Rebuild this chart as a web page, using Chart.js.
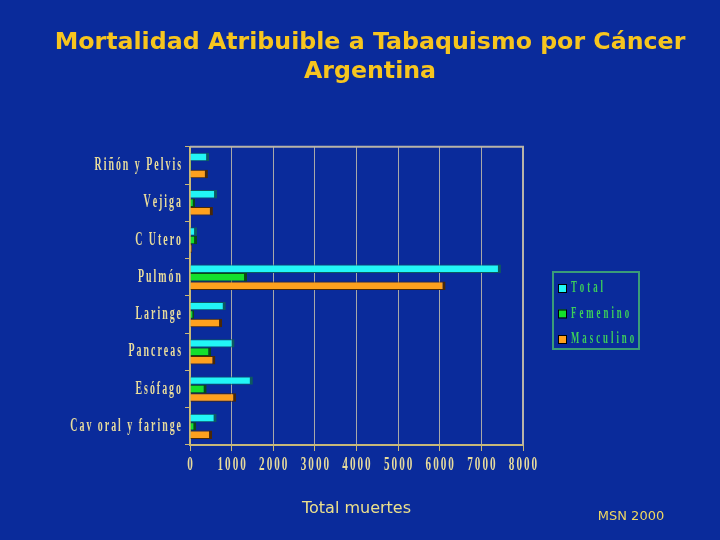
<!DOCTYPE html>
<html>
<head>
<meta charset="utf-8">
<script src="https://cdn.jsdelivr.net/npm/chart.js@4"></script>
<style>
  html, body { margin: 0; padding: 0; background: #0a2b9b; }
  #wrap { width: 720px; height: 540px; }
</style>
</head>
<body>
<div id="wrap"><canvas id="chart" width="720" height="540"></canvas></div>
<script>
// datos (muertes)
const categorias = ["Riñón y Pelvis", "Vejiga", "C Utero", "Pulmón", "Laringe", "Pancreas", "Esófago", "Cav oral y faringe"];
const total = [460, 650, 170, 7470, 860, 1070, 1510, 640];
const femenino = [30, 120, 170, 1370, 100, 510, 400, 150];
const masculino = [430, 550, 50, 6140, 770, 610, 1110, 530];
const ticksX = ["0", "1000", "2000", "3000", "4000", "5000", "6000", "7000", "8000"];

const amarillo = "#e8dc9c";

// texto "estrecho" con letras separadas, como en la diapositiva
function drawSpaced(ctx, text, x, y, align, sx, gap) {
    const chars = Array.from(text);
    const widths = chars.map(c => ctx.measureText(c).width * sx);
    const w = widths.reduce((a, b) => a + b, 0) + gap * (chars.length - 1);
    let cx = align === "right" ? x - w : align === "center" ? x - w / 2 : x;
    ctx.textAlign = "left";
    ctx.textBaseline = "middle";
    chars.forEach((c, i) => {
        ctx.save();
        ctx.translate(cx, y);
        ctx.scale(sx, 1);
        ctx.fillText(c, 0, 0);
        ctx.restore();
        cx += widths[i] + gap;
    });
}

const fondo = {
    id: "fondo",
    beforeDraw(chart) {
        const ctx = chart.ctx;
        ctx.save();
        ctx.fillStyle = "#0a2b9b";
        ctx.fillRect(0, 0, chart.width, chart.height);
        ctx.restore();
    },
    beforeDatasetsDraw(chart) {
        const a = chart.chartArea;
        const ctx = chart.ctx;
        ctx.save();
        ctx.strokeStyle = "#b8b4a8";
        ctx.lineWidth = 2;
        ctx.beginPath();
        ctx.moveTo(a.left, a.top);
        ctx.lineTo(a.right, a.top);
        ctx.lineTo(a.right, a.bottom);
        ctx.stroke();
        ctx.restore();
    }
};

const etiquetas = {
    id: "etiquetas",
    afterDraw(chart) {
        const ctx = chart.ctx;
        const y = chart.scales.y, x = chart.scales.x;
        ctx.save();
        ctx.fillStyle = amarillo;
        ctx.font = "bold 18px 'Liberation Serif'";
        categorias.forEach((c, i) => {
            drawSpaced(ctx, c, 181, y.getPixelForValue(i), "right", 0.55, 2);
        });
        ctx.font = "bold 18px 'Liberation Serif'";
        ticksX.forEach(t => {
            drawSpaced(ctx, t, x.getPixelForValue(Number(t)), 465, "center", 0.62, 2);
        });

        // leyenda
        ctx.strokeStyle = "#3a9c78";
        ctx.lineWidth = 2;
        ctx.strokeRect(553, 272, 86, 77);
        ctx.font = "bold 16px 'Liberation Serif'";
        chart.data.datasets.forEach((ds, i) => {
            const cy = 288 + i * 25.5;
            ctx.fillStyle = ds.backgroundColor;
            ctx.fillRect(558, cy - 4, 8, 8);
            ctx.strokeStyle = "#000";
            ctx.lineWidth = 1;
            ctx.strokeRect(558.5, cy - 3.5, 8, 8);
            ctx.fillStyle = "#3ccf5a";
            drawSpaced(ctx, ds.label, 571, cy, "left", 0.55, 3);
        });

        ctx.fillStyle = "#f0d860";
        ctx.font = "13px 'DejaVu Sans'";
        ctx.textAlign = "center";
        ctx.textBaseline = "middle";
        ctx.fillText("MSN 2000", 631, 517);
        ctx.restore();
    }
};

const ctx = document.getElementById("chart").getContext("2d");

const chart = new Chart(ctx, {
    type: "bar",
    data: {
        labels: categorias,
        datasets: [
            {
                label: "Total",
                data: total,
                backgroundColor: "#22f6f6",
                borderColor: "#0d5a60",
                borderWidth: { top: 1, right: 3, bottom: 1, left: 0 },
                borderSkipped: false
            },
            {
                label: "Femenino",
                data: femenino,
                backgroundColor: "#14e02c",
                borderColor: "#0a4a14",
                borderWidth: { top: 1, right: 3, bottom: 1, left: 0 },
                borderSkipped: false
            },
            {
                label: "Masculino",
                data: masculino,
                backgroundColor: "#ffa11e",
                borderColor: "#4a2806",
                borderWidth: { top: 1, right: 3, bottom: 1, left: 0 },
                borderSkipped: false
            }
        ]
    },
    options: {
        indexAxis: "y",
        responsive: false,
        animation: false,
        layout: { padding: { left: 20, right: 0, top: 0, bottom: 0 } },
        categoryPercentage: 0.68,
        barPercentage: 1.0,
        plugins: {
            legend: { display: false },
            tooltip: { enabled: false },
            title: {
                display: true,
                text: ["Mortalidad Atribuible a Tabaquismo por Cáncer", "Argentina"],
                color: "#f7c51e",
                font: { family: "'DejaVu Sans'", size: 23.7, weight: "bold", lineHeight: 1.22 },
                padding: { top: 28, bottom: 61 }
            }
        },
        scales: {
            x: {
                min: 0,
                max: 8000,
                ticks: { stepSize: 1000, display: false },
                grid: { color: "#a8a8a8", tickColor: "#c8b878", tickLength: 6, lineWidth: 1 },
                border: { color: "#c8b878", width: 2 },
                title: {
                    display: true,
                    text: "Total muertes",
                    color: "#ece08c",
                    font: { family: "'DejaVu Sans'", size: 16 },
                    padding: { top: 0, bottom: 22 }
                },
                afterFit(s) { s.height = 95; }
            },
            y: {
                ticks: { display: false },
                grid: { drawOnChartArea: false, tickColor: "#c8b878", tickLength: 5 },
                border: { color: "#c8b878", width: 2 },
                afterFit(s) { s.width = 170; }
            },
            derecha: {
                position: "right",
                type: "linear",
                ticks: { display: false },
                grid: { display: false },
                border: { display: false },
                afterFit(s) { s.width = 197; }
            }
        }
    },
    plugins: [fondo, etiquetas]
});
</script>
</body>
</html>
